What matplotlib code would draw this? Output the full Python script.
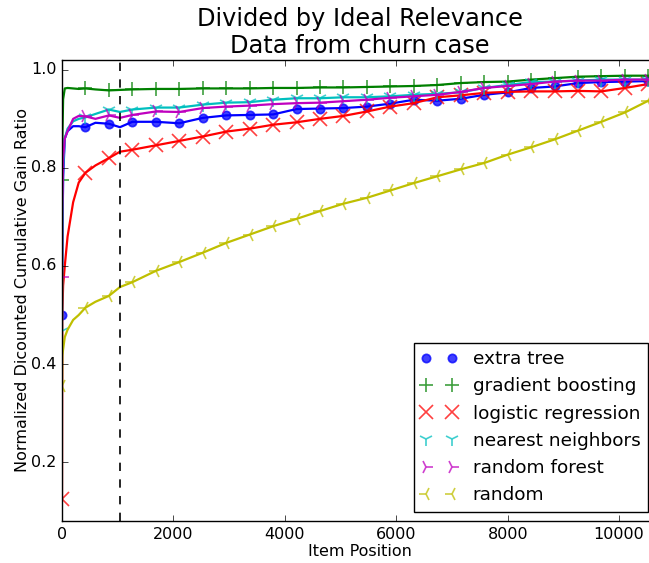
import numpy as np
import matplotlib
matplotlib.use('Agg')
import matplotlib.pyplot as plt

plt.style.use('classic')

# item positions where the curves were read (markers sit on multiples of 421)
pos = [0, 5, 20, 50, 100, 200, 300, 421, 600, 842, 1040, 1263, 1684, 2105,
       2526, 2947, 3368, 3789, 4210, 4631, 5052, 5473, 5894, 6315, 6736,
       7157, 7578, 7999, 8420, 8841, 9262, 9683, 10104, 10525, 10680]

extra_tree = [0.50, 0.62, 0.78, 0.86, 0.875, 0.885, 0.885, 0.883, 0.892, 0.89,
              0.883, 0.894, 0.894, 0.891, 0.902, 0.907, 0.908, 0.909, 0.920,
              0.921, 0.922, 0.925, 0.931, 0.939, 0.937, 0.941, 0.949, 0.954,
              0.963, 0.966, 0.973, 0.975, 0.976, 0.977, 0.978]
gradient_boosting = [0.776, 0.85, 0.94, 0.962, 0.963, 0.962, 0.961, 0.962, 0.960,
                     0.958, 0.959, 0.960, 0.961, 0.961, 0.962, 0.962, 0.962,
                     0.963, 0.963, 0.964, 0.964, 0.965, 0.966, 0.967, 0.969,
                     0.973, 0.975, 0.976, 0.980, 0.983, 0.986, 0.987, 0.988,
                     0.988, 0.989]
logistic_regression = [0.125, 0.50, 0.56, 0.60, 0.66, 0.73, 0.77, 0.79, 0.805,
                       0.82, 0.833, 0.837, 0.846, 0.855, 0.864, 0.874, 0.880,
                       0.888, 0.893, 0.900, 0.906, 0.915, 0.925, 0.932, 0.944,
                       0.948, 0.953, 0.955, 0.956, 0.956, 0.957, 0.956, 0.963,
                       0.971, 0.974]
nearest_neighbors = [0.468, 0.60, 0.80, 0.86, 0.88, 0.895, 0.90, 0.903, 0.91,
                     0.919, 0.914, 0.919, 0.923, 0.923, 0.929, 0.933, 0.934,
                     0.939, 0.942, 0.942, 0.944, 0.944, 0.946, 0.949, 0.951,
                     0.954, 0.963, 0.969, 0.975, 0.976, 0.978, 0.980, 0.980,
                     0.980, 0.981]
random_forest = [0.577, 0.70, 0.82, 0.86, 0.875, 0.90, 0.906, 0.905, 0.90, 0.907,
                 0.902, 0.908, 0.915, 0.914, 0.922, 0.925, 0.927, 0.930, 0.932,
                 0.933, 0.936, 0.939, 0.943, 0.946, 0.949, 0.955, 0.963, 0.967,
                 0.971, 0.976, 0.978, 0.978, 0.980, 0.980, 0.981]
random_order = [0.356, 0.417, 0.43, 0.455, 0.47, 0.49, 0.50, 0.515, 0.527, 0.539,
                0.557, 0.567, 0.59, 0.608, 0.627, 0.647, 0.664, 0.681, 0.696,
                0.712, 0.727, 0.739, 0.754, 0.769, 0.783, 0.797, 0.81, 0.827,
                0.842, 0.858, 0.876, 0.894, 0.913, 0.937, 0.945]

n_churn = 1040

series = [
    ('extra tree', 'b', 'o', 6, extra_tree),
    ('gradient boosting', 'g', '+', 10, gradient_boosting),
    ('logistic regression', 'r', 'x', 10, logistic_regression),
    ('nearest neighbors', 'c', '1', 10, nearest_neighbors),
    ('random forest', 'm', '4', 10, random_forest),
    ('random', 'y', '3', 10, random_order),
]

x = np.array(pos)
marks = [i for i, p in enumerate(pos) if p % 421 == 0]

fig = plt.figure(figsize=(6.49, 5.63), dpi=100, facecolor='w')
ax = fig.add_axes([62 / 649, 1 - 521 / 563, (657 - 62) / 649, (521 - 60) / 563])

for name, c, m, ms, vals in series:
    y = np.array(vals)
    ax.plot(x, y, '-', color=c, lw=1.6)
    ax.plot(x[marks], y[marks], ls='', marker=m, color=c, mec=c, ms=ms, mew=1.2,
            alpha=0.75, label=name)

ax.axvline(n_churn, color='k', ls='--', lw=1.2)

ax.set_xlim(0, 10680)
ax.set_ylim(0.08, 1.02)
ax.set_xticks([0, 2000, 4000, 6000, 8000, 10000])
ax.set_yticks([0.2, 0.4, 0.6, 0.8, 1.0])
ax.tick_params(labelsize=11.5)
ax.set_xlabel('Item Position', fontsize=11.5, labelpad=2)
ax.set_ylabel('Normalized Dicounted Cumulative Gain Ratio', fontsize=11.5, labelpad=1)
ax.set_title('Divided by Ideal Relevance\nData from churn case', fontsize=17.3,
             linespacing=1.15, pad=5)
ax.legend(loc='lower right', numpoints=2, fontsize=13.3, borderaxespad=0.5)

fig.savefig('out.png', dpi=100, facecolor='w')
